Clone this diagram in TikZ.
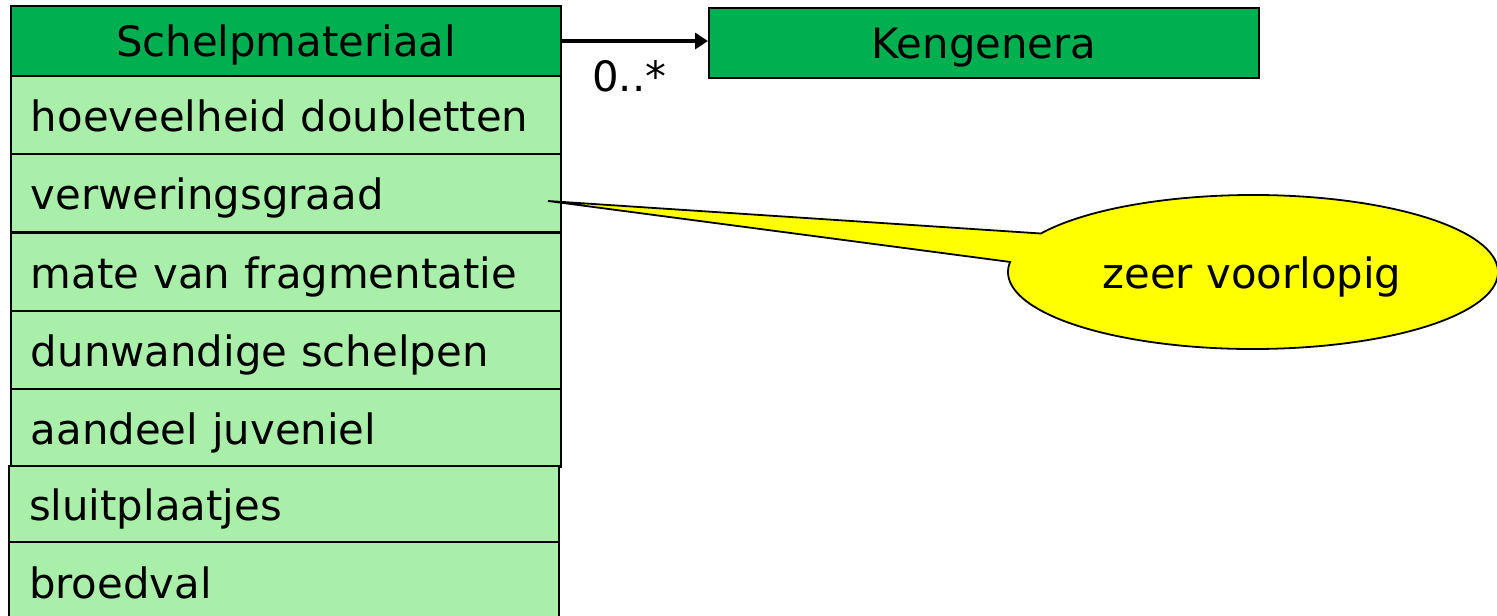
\documentclass[tikz,border=0pt]{standalone}
\usepackage{fontspec}
\setmainfont{DejaVu Sans}
\usetikzlibrary{arrows.meta}
\definecolor{classgreen}{RGB}{0,176,80}
\definecolor{attrgreen}{RGB}{169,239,170}
\definecolor{noteyellow}{RGB}{255,255,0}
\begin{document}
\begin{tikzpicture}[x=0.5pt,y=0.5pt,
  every node/.style={font=\fontsize{20.9}{24}\selectfont},
  boxbase/.style={draw=black,line width=1pt,inner xsep=10pt,inner ysep=0pt,
    minimum width=275pt,text height=16pt,text depth=0pt,anchor=north west},
  classbox/.style={boxbase,fill=classgreen,minimum height=35pt,align=center,text width=255pt},
  attrbox/.style={boxbase,fill=attrgreen,minimum height=39pt,align=left,text width=255pt},
  assoc/.style={line width=2.4pt,-{Triangle[length=6.5pt,width=8pt]}},
  notebubble/.style={draw=black,line width=0.9pt,fill=noteyellow,line join=miter}
]
\useasboundingbox (0,0) rectangle (1497,-615);
\clip (0,0) rectangle (1497,-615);

% class header and its attribute rows
\node[classbox] (cls) at (10,-5) {Schelpmateriaal};
\node[attrbox] (a1) at (10,-75)  {hoeveelheid doubletten};
\node[attrbox] (a2) at (10,-153) {verweringsgraad};
\node[attrbox] (a3) at (10,-232) {mate van fragmentatie};
\node[attrbox] (a4) at (10,-310) {dunwandige schelpen};
\node[attrbox] (a5) at (10,-388) {aandeel juveniel};
\node[attrbox,minimum height=38pt] (a6) at (8,-465) {sluitplaatjes};
\node[attrbox,minimum height=40pt] (a7) at (8,-541) {broedval};

% associated class
\node[classbox] (gen) at (708,-7) {Kengenera};

% association with multiplicity
\draw[assoc] (cls.east) -- (gen.west |- cls.east);
\node[anchor=base west,inner sep=0pt] (mult) at (592,-91) {0..*};

% callout bubble attached to an attribute
\coordinate (tip) at (548,-201);
\coordinate (nc) at (1253,-272);
\draw[notebubble] (tip) -- ([shift={(150:122.5pt and 38.5pt)}]nc)
  arc[start angle=150,end angle=-187.5,x radius=122.5pt,y radius=38.5pt] -- cycle;
\node[inner sep=0pt,text height=16pt,text depth=0pt] (note) at (1252,-272) {zeer voorlopig};
\end{tikzpicture}
\end{document}
